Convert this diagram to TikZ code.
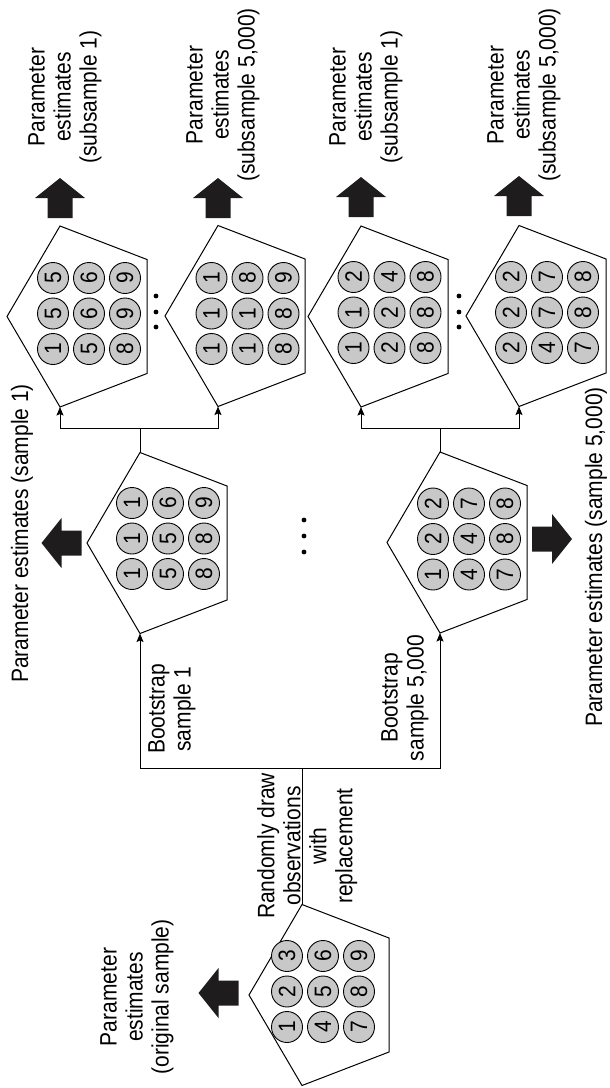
\documentclass[tikz,border=0pt]{standalone}
\usepackage{fontspec}
\usepackage{graphicx}
\setmainfont{Liberation Sans}
\usetikzlibrary{arrows.meta}
\definecolor{ballgray}{RGB}{200,200,200}
\definecolor{fatblack}{RGB}{30,28,28}

\tikzset{
  outline/.style={draw=black, line width=1pt, line join=miter},
  conn/.style={draw=black, line width=1pt},
  arr/.style={conn, -{Stealth[length=8.5pt,width=7pt,inset=1.5pt]}},
  ball/.style={circle, draw=black, line width=0.9pt, fill=ballgray, minimum size=31pt,
    inner sep=0pt, rotate=90, font=\fontsize{21}{21}\selectfont},
  lbl/.style={rotate=90, yscale=1.13, inner sep=0pt, font=\fontsize{21}{23}\selectfont},
  fat/.style={fill=fatblack},
  dotmark/.style={fill=black},
}

% pentagon with apex pointing left: name, apex x, centre y
\newcommand\drawpent[3]{%
  \coordinate (#1-a) at (#2,#3);
  \coordinate (#1-tu) at ({#2+53},{#3-90.5});
  \coordinate (#1-bu) at ({#2+140},{#3-57});
  \coordinate (#1-bl) at ({#2+140},{#3+57});
  \coordinate (#1-tl) at ({#2+53},{#3+90.5});
  \draw[outline] (#1-a) -- (#1-tu) -- (#1-bu) -- (#1-bl) -- (#1-tl) -- cycle;
}
% 3x3 grid of numbered balls: name, first column x, centre y, digits
\newcommand\drawgrid[4]{%
  \foreach \d [count=\i from 0] in {#4} {
    \pgfmathtruncatemacro\rr{\i/3}
    \pgfmathtruncatemacro\cc{mod(\i,3)}
    \node[ball] (#1-\i) at ({#2+36*\rr},{#3+35.5-35.5*\cc}) {\scalebox{1}[1.13]{\d}};
  }
}
% fat arrow: tail centre (x,y), direction angle
\newcommand\fatarrow[2]{%
  \fill[fat, shift={(#1)}, rotate=#2]
    (0,-12.5) -- (20,-12.5) -- (20,-25) -- (40,0) -- (20,25) -- (20,12.5) -- (0,12.5) -- cycle;
}

\begin{document}
\begin{tikzpicture}[x=1pt, y=-1pt]
\useasboundingbox (0,0) rectangle (610,1088);

% pentagons
\drawpent{O}{249}{995}
\drawpent{B1}{87}{543}
\drawpent{B5}{387}{542.5}
\drawpent{S11}{7}{316.5}
\drawpent{S15}{165}{316}
\drawpent{S51}{308}{316.5}
\drawpent{S55}{466}{316}

% balls
\drawgrid{O}{287}{991.5}{1,2,3,4,5,6,7,8,9}
\drawgrid{B1}{132}{538.5}{1,1,1,5,5,6,8,8,9}
\drawgrid{B5}{433}{539}{1,2,2,4,4,7,7,8,8}
\drawgrid{S11}{53}{313.5}{1,5,5,5,6,6,8,9,9}
\drawgrid{S15}{211.5}{313.5}{1,1,1,1,1,8,8,8,9}
\drawgrid{S51}{353.5}{312.5}{1,1,2,2,2,4,8,8,8}
\drawgrid{S55}{511}{312.5}{2,2,2,4,7,7,7,8,8}

% connectors
\coordinate (fork0) at (302,768);
\coordinate (fork1) at (140,428);
\coordinate (fork2) at (440,428);
\draw[conn] (O-tu) -- (fork0);
\draw[arr] (fork0) -| (B1-tl);
\draw[arr] (fork0) -| (B5-tl);
\draw[conn] (B1-tu) -- (fork1);
\draw[arr] (fork1) -| (S11-tl);
\draw[arr] (fork1) -| (S15-tl);
\draw[conn] (B5-tu) -- (fork2);
\draw[arr] (fork2) -| (S51-tl);
\draw[arr] (fork2) -| (S55-tl);

% fat arrows
\fatarrow{238.5,993}{180}
\fatarrow{81.5,543}{180}
\fatarrow{532,539}{0}
\fatarrow{60,218}{90}
\fatarrow{218,218}{90}
\fatarrow{361,217}{90}
\fatarrow{519,216}{90}

% ellipsis dots
\foreach \yy in {520,536,552} \fill[dotmark] (304,\yy) circle (2.4pt);
\foreach \yy in {296,312,327} \fill[dotmark] (156,\yy) circle (2.4pt);
\foreach \yy in {296,312,327} \fill[dotmark] (459,\yy) circle (2.4pt);

% labels
\node[lbl, anchor=north, align=center] (lab-orig) at (100,997) {Parameter\\estimates\\(original sample)};
\node[lbl, anchor=north, align=center] (lab-draw) at (257,846) {Randomly draw\\observations\\with\\replacement};
\node[lbl, anchor=north, align=center] (lab-b1) at (148,709) {Bootstrap\\sample 1};
\node[lbl, anchor=north, align=center] (lab-b5) at (381,698) {Bootstrap\\sample 5,000};
\node[lbl, anchor=base west] (est-b1) at (28,683) {Parameter estimates (sample 1)};
\node[lbl, anchor=base east] (est-b5) at (602,387) {Parameter estimates (sample 5,000)};
\node[lbl, anchor=north, align=center] (est-s11) at (28,97) {Parameter\\estimates\\(subsample 1)};
\node[lbl, anchor=north, align=center] (est-s15) at (186,95) {Parameter\\estimates\\(subsample 5,000)};
\node[lbl, anchor=north, align=center] (est-s51) at (329,97) {Parameter\\estimates\\(subsample 1)};
\node[lbl, anchor=north, align=center] (est-s55) at (487,95) {Parameter\\estimates\\(subsample 5,000)};
\end{tikzpicture}
\end{document}
